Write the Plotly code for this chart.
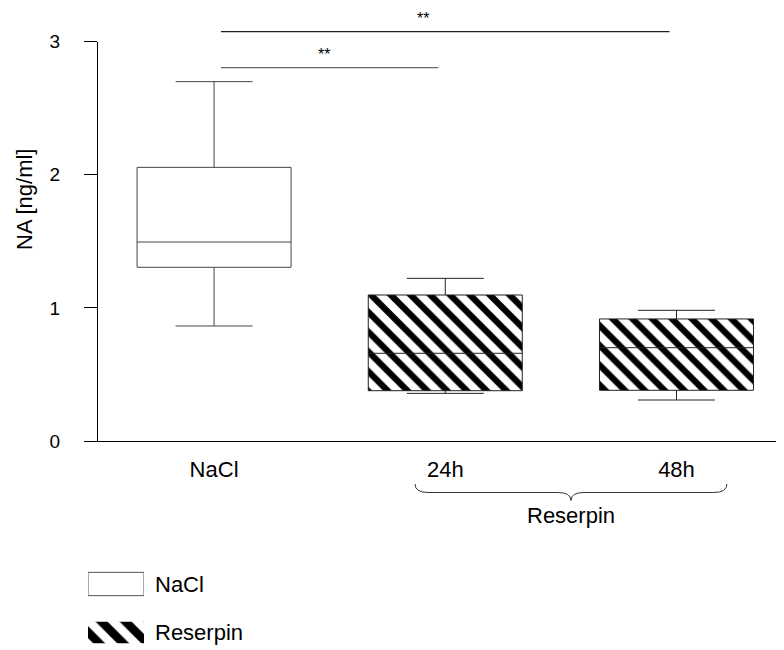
import plotly.graph_objects as go

# ---------------- data ----------------
groups = ["NaCl", "24h", "48h"]
group_pos = [0, 1, 2]
q1 = [1.305, 0.378, 0.381]
median = [1.495, 0.659, 0.701]
q3 = [2.056, 1.097, 0.917]
lower = [0.864, 0.358, 0.308]
upper = [2.70, 1.222, 0.982]
y_ticks = [0, 1, 2, 3]
sig_pairs = [(0, 1), (0, 2)]
sig_levels = [2.805, 3.075]
sig_labels = ["**", "**"]
legend_labels = ["NaCl", "Reserpin"]
brace_label = "Reserpin"
y_title = "NA [ng/ml]"

FONT = "Liberation Sans, Arial, sans-serif"
OFF = 8                      # page body margin
W, H = 784 - OFF, 650 - OFF  # figure size

def fy(py):  # screen pixel y -> paper fraction
    return (H - (py - OFF)) / H

X_MIN, X_MAX = -0.502, 2.465
XD0 = (98 - OFF) / W

def fx(v):  # data x -> paper fraction
    return XD0 + (v - X_MIN) / (X_MAX - X_MIN) * (1 - XD0)

def fpx(px):  # screen pixel x -> paper fraction
    return (px - OFF) / W

BOX_W = 0.666
PAT = dict(shape="\\", fgcolor="black", bgcolor="white", size=14, solidity=0.45,
           fgopacity=1)
fig = go.Figure()

# patterned fills for Reserpin boxes
fig.add_trace(go.Bar(
    x=group_pos[1:], base=q1[1:], y=[a - b for a, b in zip(q3[1:], q1[1:])],
    width=BOX_W, marker=dict(color="white", opacity=1, line=dict(width=0), pattern=PAT),
    showlegend=False, hoverinfo="skip", xaxis="x", yaxis="y"))

# NaCl box
fig.add_trace(go.Box(
    x=group_pos[:1], q1=q1[:1], median=median[:1], q3=q3[:1],
    lowerfence=lower[:1], upperfence=upper[:1], width=BOX_W, whiskerwidth=0.5,
    fillcolor="white", line=dict(color="#444", width=1), boxpoints=False,
    showlegend=False, xaxis="x", yaxis="y"))

# Reserpin boxes (outline)
fig.add_trace(go.Box(
    x=group_pos[1:], q1=q1[1:], median=median[1:], q3=q3[1:],
    lowerfence=lower[1:], upperfence=upper[1:], width=BOX_W, whiskerwidth=0.5,
    fillcolor="rgba(0,0,0,0)", line=dict(color="#222", width=1), boxpoints=False,
    showlegend=False, xaxis="x", yaxis="y"))

# significance lines
sig_colors = ["#666", "#222"]
for (a, b), lvl, c in zip(sig_pairs, sig_levels, sig_colors):
    fig.add_trace(go.Scatter(x=[a + 0.03, b - 0.03], y=[lvl, lvl], mode="lines",
                             line=dict(color=c, width=1.2), showlegend=False,
                             hoverinfo="skip", xaxis="x", yaxis="y3"))

# legend patches (hidden axes)
leg_y = [1, 0]
fig.add_trace(go.Bar(x=[1], y=[leg_y[0]], base=0, orientation="h", width=0.48,
                     marker=dict(color="white", opacity=1, line=dict(color="#555", width=1)),
                     showlegend=False, hoverinfo="skip", xaxis="x2", yaxis="y2"))
fig.add_trace(go.Bar(x=[1], y=[leg_y[1]], base=0, orientation="h", width=0.44,
                     marker=dict(color="white", opacity=1, line=dict(width=0),
                                 pattern=dict(PAT, size=17, solidity=0.5)),
                     showlegend=False, hoverinfo="skip", xaxis="x2", yaxis="y2"))

annotations = []
for (a, b), lvl, lab, xs in zip(sig_pairs, sig_levels, sig_labels, [-6, -22]):
    annotations.append(dict(x=(a + b) / 2, y=lvl, xref="x", yref="y3", text=lab,
                            showarrow=False, yanchor="bottom", xanchor="center",
                            yshift=3, xshift=xs,
                            font=dict(family=FONT, size=16, color="black")))

# brace under Reserpin groups
bx0, bx1 = group_pos[1] - 0.131, group_pos[2] + 0.218
bxc = (bx0 + bx1) / 2
X0, X1, XC = fx(bx0), fx(bx1), fx(bxc)
yt, ym, yp = fy(484), fy(492.5), fy(500.5)
d = 0.017
path = (f"M {X0},{yt} Q {X0},{ym} {X0+d},{ym} L {XC-d},{ym} "
        f"Q {XC},{ym} {XC},{yp} Q {XC},{ym} {XC+d},{ym} L {X1-d},{ym} "
        f"Q {X1},{ym} {X1},{yt}")
shapes = [dict(type="path", path=path, xref="paper", yref="paper",
               line=dict(color="#333", width=1))]

annotations.append(dict(x=bxc, y=fy(515), xref="x", yref="paper", text=brace_label,
                        showarrow=False, xanchor="center", yanchor="middle",
                        font=dict(family=FONT, size=22, color="black")))
annotations.append(dict(x=fpx(24), y=fy(200), xref="paper", yref="paper", text=y_title,
                        textangle=-90, showarrow=False, xanchor="center", yanchor="middle",
                        font=dict(family=FONT, size=22, color="black")))

fig.update_layout(
    template="none",
    width=W, height=H, margin=dict(l=0, r=0, t=0, b=0, pad=0, autoexpand=False),
    paper_bgcolor="white", plot_bgcolor="rgba(0,0,0,0)",
    barmode="overlay", boxmode="overlay", showlegend=False,
    font=dict(family=FONT, color="black"),
    xaxis=dict(domain=[XD0, 1.0], range=[X_MIN, X_MAX], tickvals=group_pos,
               ticktext=groups, showline=True, linecolor="black", linewidth=1,
               ticks="", showgrid=False, zeroline=False, anchor="y", automargin=False,
               tickfont=dict(family=FONT, size=22, color="black"),
               ticklabelstandoff=9),
    yaxis=dict(domain=[fy(441), fy(41.7)], range=[0, 3], tickvals=y_ticks,
               showline=True, linecolor="black", linewidth=1, ticks="outside",
               ticklen=13, tickcolor="black", tickwidth=1, showgrid=False,
               zeroline=False, anchor="x", ticklabelstandoff=20, automargin=False,
               tickfont=dict(family=FONT, size=19, color="black")),
    yaxis3=dict(domain=[fy(441), 1.0], range=[0, (441 - OFF) / 133.1],
                visible=False, anchor="x", automargin=False),
    xaxis2=dict(domain=[fpx(88), fpx(144)], range=[0, 1], visible=False,
                anchor="y2", automargin=False),
    yaxis2=dict(domain=[0, fy(560)], range=[-0.361, 1.495], anchor="x2",
                side="right", tickvals=leg_y, ticktext=legend_labels,
                showline=False, showgrid=False, zeroline=False, ticks="",
                ticklabelstandoff=10, automargin=False,
                tickfont=dict(family=FONT, size=22, color="black")),
    shapes=shapes, annotations=annotations,
)

fig.write_html("out.html")
